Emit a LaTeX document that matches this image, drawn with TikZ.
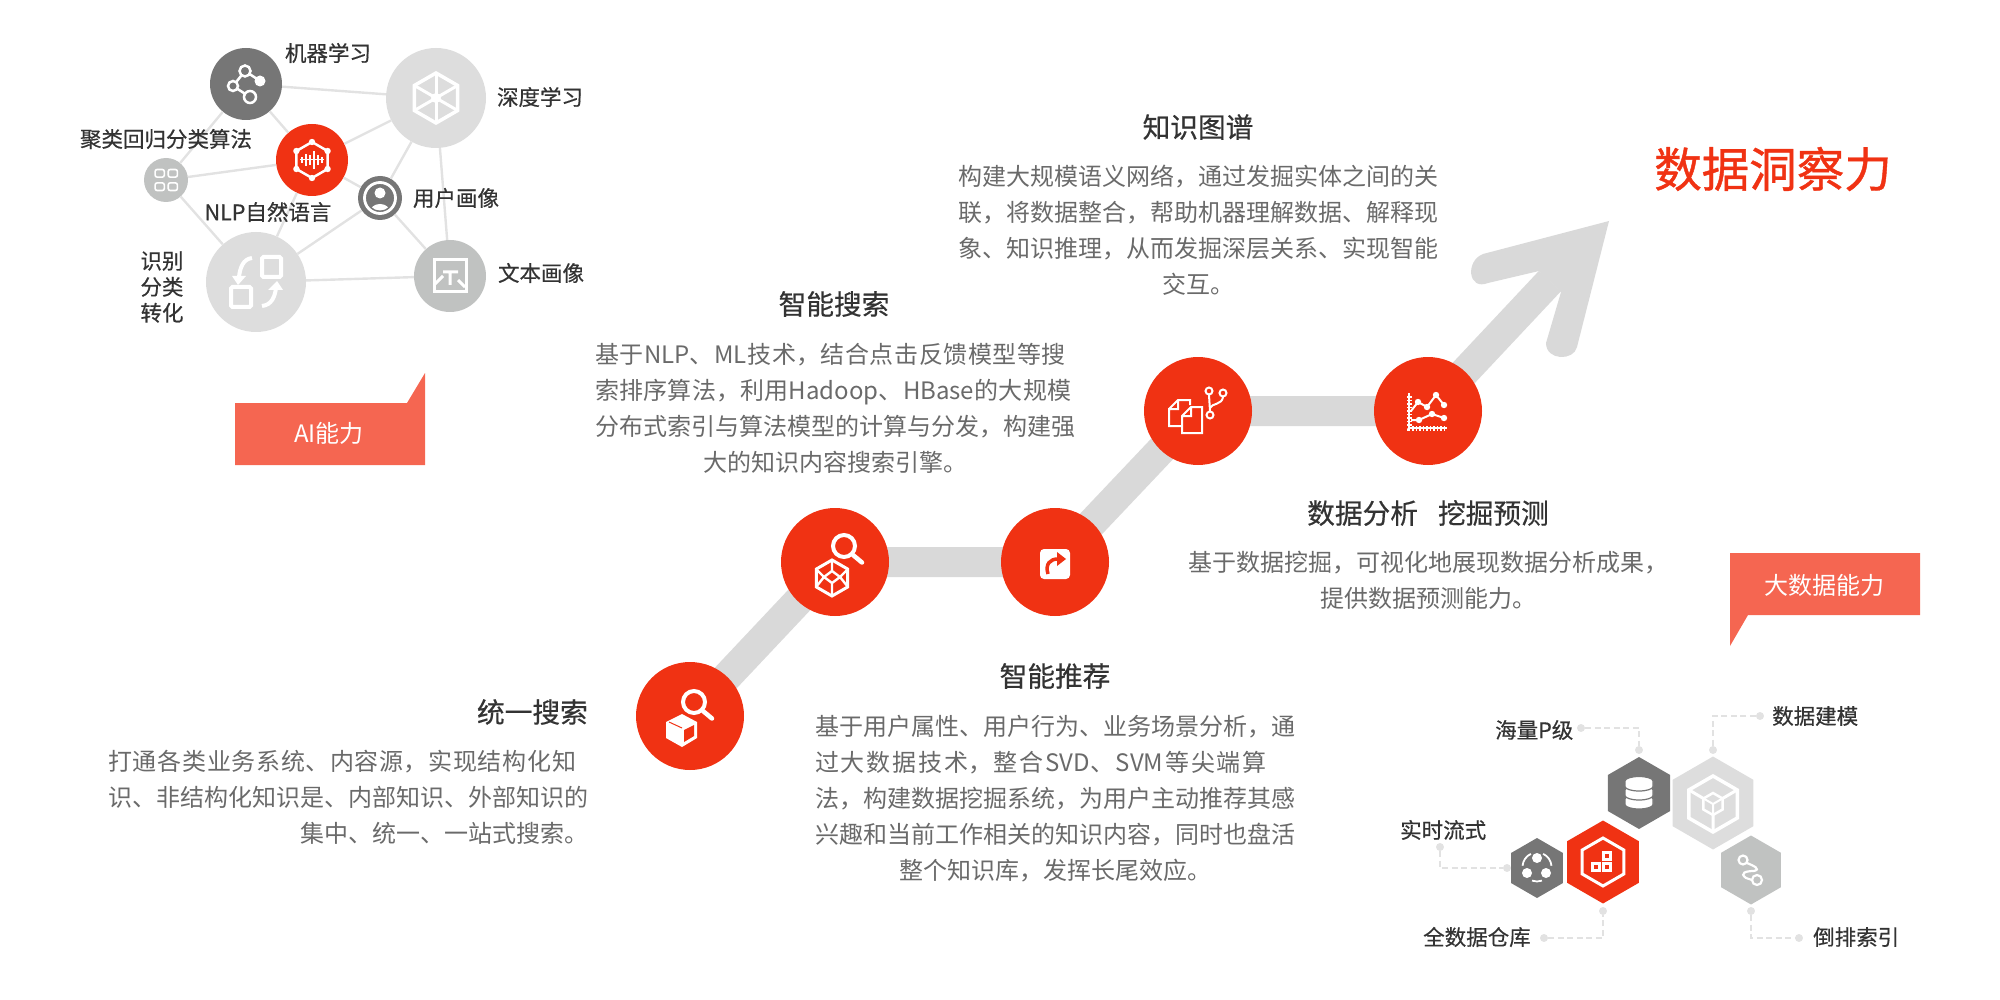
\documentclass[tikz,border=0pt]{standalone}
\usepackage{fontspec}
\setmainfont{Noto Sans CJK SC}
\newfontfamily\headfont[FakeBold=0.5]{Noto Sans CJK SC}
\newfontfamily\titlefont[FakeBold=0.9]{Noto Sans CJK SC}
\usetikzlibrary{shapes.geometric,backgrounds}
\XeTeXlinebreaklocale "zh"
\XeTeXlinebreakskip=0pt plus 3pt minus .6pt
\tolerance=10000
\hyphenpenalty=10000
\definecolor{brandred}{HTML}{F03213}
\definecolor{tagred}{HTML}{F56651}
\definecolor{bandgrey}{HTML}{D9D9D9}
\definecolor{linkgrey}{HTML}{E2E2E2}
\definecolor{palegrey}{HTML}{DDDDDD}
\definecolor{midgrey}{HTML}{C0C2C1}
\definecolor{darkgrey}{HTML}{767676}
\definecolor{bodygrey}{HTML}{6A6A6A}
\definecolor{labelgrey}{HTML}{333333}
\newcommand\jl[1]{{\parfillskip=0pt #1\par}}
\newcommand\cl[1]{{\centering #1\par}}
\newcommand\rl[1]{{\raggedleft #1\par}}
\newcommand\hexring[4]{\draw[#4] (#1,#2-#3) -- (#1+.866*#3,#2-.5*#3) -- (#1+.866*#3,#2+.5*#3) -- (#1,#2+#3) -- (#1-.866*#3,#2+.5*#3) -- (#1-.866*#3,#2-.5*#3) -- cycle;}
\newcommand\lensicon[2]{\draw[iconline,line width=4pt] (#1,#2) circle (11pt); \draw[iconline,line width=4.5pt,line cap=round] (#1+9,#2+9) -- (#1+18,#2+16.5);}
\tikzset{
  band/.style={line width=30pt,draw=bandgrey},
  netlink/.style={line width=2.4pt,draw=linkgrey},
  stepnode/.style={circle,fill=brandred,minimum size=108pt,inner sep=0pt},
  netnode/.style={circle,inner sep=0pt,minimum size=#1},
  hexnode/.style={regular polygon,regular polygon sides=6,shape border rotate=30,inner sep=0pt,outer sep=0pt,minimum size=#1},
  leader/.style={draw=linkgrey,line width=1.5pt,dash pattern=on 6pt off 3.5pt},
  leaderdot/.style={circle,fill=linkgrey,minimum size=8pt,inner sep=0pt},
  lab/.style={font=\headfont\fontsize{21.5}{26}\selectfont,text=labelgrey,inner sep=0pt},
  stephead/.style={font=\headfont\fontsize{27.7}{32}\selectfont,text=labelgrey,inner sep=0pt},
  stepbody/.style={font=\fontsize{24}{36}\selectfont,text=bodygrey,inner sep=0pt,text width=480pt,anchor=north west},
  tagtext/.style={font=\fontsize{24}{28}\selectfont,text=white,inner sep=0pt},
  iconline/.style={draw=white,line width=2.5pt,fill=none},
  icondot/.style={fill=white}
}
\begin{document}
\begin{tikzpicture}[x=1pt,y=-1pt]
  \useasboundingbox (0,0) rectangle (2000,1000);

  \node[stepnode] (search) at (690,716) {};
  \node[stepnode] (graphsearch) at (835,562) {};
  \node[stepnode] (recommend) at (1055,562) {};
  \node[stepnode] (knowledge) at (1198,411) {};
  \node[stepnode] (analysis) at (1428,411) {};
  \coordinate (headbase) at (1550,281);

  \begin{pgfonlayer}{background}
    \draw[band] (search.center) -- (graphsearch.center) -- (recommend.center) -- (knowledge.center) -- (analysis.center) -- (headbase);
    \fill[bandgrey] (1609,221) -- (1483,254) .. controls (1465,261) and (1468,291) .. (1488,283) -- (1539,271) -- (1561,292) -- (1546,343) .. controls (1546,361) and (1574,361) .. (1577,347) -- cycle;
  \end{pgfonlayer}

  \node[netnode=72pt,fill=darkgrey] (ml) at (246,84) {};
  \node[netnode=100pt,fill=palegrey] (deep) at (436,98) {};
  \node[netnode=72pt,fill=brandred] (nlp) at (312,160) {};
  \node[netnode=44pt,fill=midgrey] (cluster) at (166,180) {};
  \node[netnode=44pt,fill=darkgrey] (user) at (380,198) {};
  \node[netnode=100pt,fill=palegrey] (convert) at (256,282) {};
  \node[netnode=72pt,fill=midgrey] (textpic) at (450,276) {};
  \draw[netlink] (ml) -- (deep);
  \draw[netlink] (ml) -- (nlp);
  \draw[netlink] (ml) -- (cluster);
  \draw[netlink] (cluster) -- (nlp);
  \draw[netlink] (cluster) -- (convert);
  \draw[netlink] (nlp) -- (deep);
  \draw[netlink] (nlp) -- (user);
  \draw[netlink] (nlp) -- (convert);
  \draw[netlink] (deep) -- (user);
  \draw[netlink] (deep) -- (textpic);
  \draw[netlink] (user) -- (convert);
  \draw[netlink] (user) -- (textpic);
  \draw[netlink] (convert) -- (textpic);

  \node[lab] (mllabel) at (328,53) {机器学习};
  \node[lab] (deeplabel) at (540,97) {深度学习};
  \node[lab] (clusterlabel) at (166,139) {聚类回归分类算法};
  \node[lab] (nlplabel) at (268,212) {NLP自然语言};
  \node[lab] (userlabel) at (456,198) {用户画像};
  \node[lab] (textlabel) at (541,273) {文本画像};
  \node[lab,align=center] (convertlabel) at (162,287) {识别\\分类\\转化};

  \fill[tagred] (235,403) -- (407,403) -- (425,373) -- (425,465) -- (235,465) -- cycle;
  \node[tagtext] (ailabel) at (329,433) {AI能力};
  \fill[tagred] (1730,553) -- (1920,553) -- (1920,615) -- (1748,615) -- (1730,646) -- cycle;
  \node[tagtext] (datalabel) at (1824,585) {大数据能力};

  \node[font=\titlefont\fontsize{47.5}{52}\selectfont,text=brandred,inner sep=0pt] (title) at (1773,169) {数据洞察力};

  \node[stephead,anchor=east] (searchhead) at (588,712) {统一搜索};
  \node[stepbody] (searchbody) at (108,750) {\jl{打通各类业务系统、内容源，实现结构化知}\jl{识、非结构化知识是、内部知识、外部知识的}\rl{集中、统一、一站式搜索。}};
  \node[stephead] (graphhead) at (834,304) {智能搜索};
  \node[stepbody] (graphbody) at (595,343) {\jl{基于NLP、ML技术，结合点击反馈模型等搜}\jl{索排序算法，利用Hadoop、HBase的大规模}\jl{分布式索引与算法模型的计算与分发，构建强}\cl{大的知识内容搜索引擎。}};
  \node[stephead] (recommendhead) at (1055,676) {智能推荐};
  \node[stepbody] (recommendbody) at (815,715) {\jl{基于用户属性、用户行为、业务场景分析，通}\jl{过大数据技术，整合SVD、SVM等尖端算}\jl{法，构建数据挖掘系统，为用户主动推荐其感}\jl{兴趣和当前工作相关的知识内容，同时也盘活}\cl{整个知识库，发挥长尾效应。}};
  \node[stephead] (knowledgehead) at (1198,127) {知识图谱};
  \node[stepbody] (knowledgebody) at (958,165) {\jl{构建大规模语义网络，通过发掘实体之间的关}\jl{联，将数据整合，帮助机器理解数据、解释现}\jl{象、知识推理，从而发掘深层关系、实现智能}\cl{交互。}};
  \node[stephead] (analysishead) at (1428,513) {数据分析\hspace*{20pt}挖掘预测};
  \node[stepbody] (analysisbody) at (1188,551) {\cl{基于数据挖掘，可视化地展现数据分析成果，}\cl{提供数据预测能力。}};

  \lensicon{694}{702}
  \fill[white] (682,714) -- (697,722) -- (697,738) -- (682,747) -- (666,738) -- (666,722) -- cycle;
  \fill[brandred] (684,730) -- (694,725) -- (694,736) -- (684,742) -- cycle;
  \draw[brandred,line width=1pt] (669,722) -- (682,728);

  \lensicon{844}{546}
  \hexring{832}{578}{18}{iconline,line width=3pt}
  \draw[iconline,line width=2.4pt] (832,571) -- (840,577) -- (832,583) -- (824,577) -- cycle (832,560) -- (832,571) (848,569) -- (840,577) (816,569) -- (824,577) (832,596) -- (832,583) (816,587) -- (824,577) (848,587) -- (840,577);

  \fill[white,rounded corners=4pt] (1040,549) rectangle (1070,579);
  \draw[brandred,line width=3.5pt] (1048,574) .. controls (1045,564) and (1050,559) .. (1058,559);
  \fill[brandred] (1057,552) -- (1066,559) -- (1057,566) -- cycle;

  \draw[iconline,line width=2pt] (1169,409) -- (1178,400) -- (1190,400) -- (1190,405) (1178,400) -- (1178,409) -- (1169,409) -- (1169,426) -- (1181,426);
  \draw[iconline,line width=2pt] (1182,416) -- (1191,407) -- (1202,407) -- (1202,433) -- (1182,433) -- cycle (1191,407) -- (1191,416) -- (1182,416);
  \draw[iconline,line width=2pt] (1209,391) circle (3.5pt) (1223,393) circle (3.5pt) (1210,415) circle (3.5pt) (1209,395) -- (1210,411) (1223,397) .. controls (1222,405) and (1212,403) .. (1210,408);

  \draw[white,line width=2pt] (1409,393) -- (1409,428) -- (1447,428);
  \draw[white,line width=5pt,dash pattern=on 1.5pt off 2pt] (1409,396) -- (1409,428) -- (1447,428);
  \draw[iconline,line width=2pt] (1411,411) -- (1418,402) -- (1427,407) -- (1436,395) -- (1444,405) (1411,420) -- (1419,420) -- (1432,414) -- (1444,418);
  \foreach \px/\py in {1418/402,1427/407,1436/395,1444/405,1419/420,1432/414,1444/418}
    \fill[white] (\px,\py) circle (3.2pt);

  \draw[iconline] (245,71) -- (260,81) (245,71) -- (233,86) -- (250,97);
  \fill[darkgrey] (245,71) circle (5pt) (233,86) circle (5pt) (250,97) circle (5pt);
  \draw[iconline] (245,71) circle (5.5pt) (233,86) circle (5pt) (250,97) circle (6pt);
  \fill[white] (260,81) circle (5.5pt);

  \hexring{436}{98}{25}{iconline,line width=3.5pt}
  \foreach \a in {30,90,...,330}
    \draw[iconline,line width=3pt] (436,98) -- +(\a:25pt);
  \fill[white] (436,98) circle (5pt);

  \hexring{312}{160}{18}{iconline,line width=2.5pt}
  \foreach \a in {30,90,...,330}
    \fill[white] (312,160) +(\a:18pt) circle (3.2pt);
  \foreach \px/\ph in {302/3,306/6,310/5,314/9,318/5,322/3}
    \draw[iconline,line width=1.6pt] (\px,160-\ph) -- (\px,160+\ph);
  \draw[iconline,line width=1pt] (300,160) -- (324,160);

  \foreach \px/\py in {159.7/173.3,172.8/173.3,159.7/186.7,172.8/186.7}
    \draw[iconline,line width=1.6pt,rounded corners=2pt] (\px-4.6,\py-3.8) rectangle (\px+4.6,\py+3.8);

  \draw[iconline,line width=2.8pt] (380,198) circle (15.5pt);
  \begin{scope}
    \clip (380,198) circle (12.5pt);
    \fill[white] (380,193) circle (5.5pt);
    \fill[white] (380,212) ellipse (10pt and 8pt);
  \end{scope}

  \draw[iconline,line width=4pt,rounded corners=1.5pt] (262,257) rectangle (281,277) (231,287) rectangle (251,307);
  \draw[iconline,line width=4pt] (252,258) .. controls (243,259) and (240,268) .. (239,277);
  \fill[white] (232,276) -- (246,276) -- (238,285) -- cycle;
  \draw[iconline,line width=4pt] (262,306) .. controls (272,305) and (275,296) .. (276,288);
  \fill[white] (268,290) -- (283,290) -- (277,281) -- cycle;

  \draw[iconline,line width=3pt] (434,260) rectangle (466,292);
  \draw[iconline,line width=3pt] (443,272) -- (458,272) (450,272) -- (450,285) (435,284) -- (443,276) (458,280) -- (465,287);

  \node[hexnode=72pt,fill=darkgrey] (dbhex) at (1639,793) {};
  \node[hexnode=93pt,fill=palegrey] (modelhex) at (1713,803) {};
  \node[hexnode=83pt,fill=brandred] (warehousehex) at (1603,862) {};
  \node[hexnode=60pt,fill=darkgrey] (streamhex) at (1537,868) {};
  \node[hexnode=69pt,fill=midgrey] (indexhex) at (1751,870) {};

  \foreach \py in {799,790,781}
    \filldraw[fill=white,draw=darkgrey,line width=1.2pt] (1625,\py) arc (180:0:14pt and 4.5pt) -- ++(0,5.5) arc (360:180:14pt and 4.5pt) -- cycle;

  \hexring{1713}{804}{28}{iconline,line width=3.5pt}
  \hexring{1713}{804}{11}{iconline}
  \draw[iconline,line width=3pt] (1689,790) -- (1703.5,798.5) (1737,790) -- (1722.5,798.5) (1713,815) -- (1713,832);
  \draw[iconline,line width=2pt] (1713,804) -- (1713,815) (1713,804) -- (1703.5,798.5) (1713,804) -- (1722.5,798.5);

  \hexring{1603}{862}{24}{iconline,line width=3pt}
  \foreach \px/\py in {1607/856,1596/867,1607/867}{
    \fill[white] (\px-5,\py-5) rectangle (\px+5,\py+5);
    \fill[brandred] (\px-2,\py-2) rectangle (\px+2,\py+2);
  }

  \fill[white] (1537,858) circle (5pt) (1527,873) circle (5pt) (1546,873) circle (5pt);
  \foreach \a/\b in {115/175,65/5,250/290}
    \draw[iconline,line width=1.8pt] ([shift={(\a:14.5pt)}]1537,867) arc[start angle=\a,end angle=\b,radius=14.5pt];

  \draw[iconline,line width=2.2pt] (1743,860) circle (4.5pt) (1757,880) circle (5pt);
  \draw[iconline,line width=2.2pt] (1747,863) .. controls (1754,866) and (1761,869) .. (1754,871) .. controls (1746,871) and (1739,873) .. (1746,878) -- (1752,880);

  \node[lab,anchor=west] (petalabel) at (1495,730) {海量P级};
  \node[lab,anchor=west] (modellabel) at (1772,716) {数据建模};
  \node[lab,anchor=west] (streamlabel) at (1400,830) {实时流式};
  \node[lab,anchor=west] (warehouselabel) at (1423,937) {全数据仓库};
  \node[lab,anchor=west] (indexlabel) at (1813,937) {倒排索引};

  \node[leaderdot] (petaa) at (1581,728) {};
  \node[leaderdot] (petab) at (1639,750) {};
  \node[leaderdot] (modela) at (1760,716) {};
  \node[leaderdot] (modelb) at (1713,750) {};
  \node[leaderdot] (streama) at (1440,847) {};
  \node[leaderdot] (streamb) at (1507,868) {};
  \node[leaderdot] (warehousea) at (1544,938) {};
  \node[leaderdot] (warehouseb) at (1603,911) {};
  \node[leaderdot] (indexa) at (1751,911) {};
  \node[leaderdot] (indexb) at (1799,938) {};
  \draw[leader] (petaa) -| (petab);
  \draw[leader] (modela) -| (modelb);
  \draw[leader] (streama) |- (streamb);
  \draw[leader] (warehousea) -| (warehouseb);
  \draw[leader] (indexa) |- (indexb);
\end{tikzpicture}
\end{document}
